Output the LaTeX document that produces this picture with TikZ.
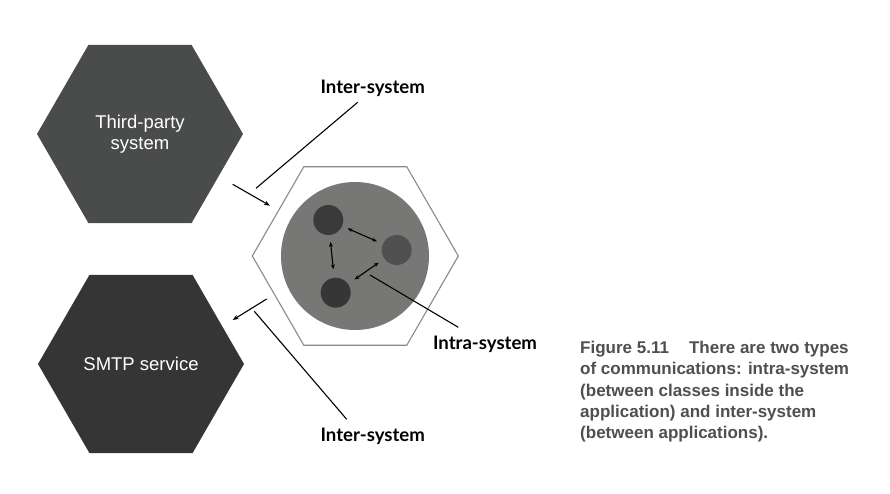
\documentclass[tikz,border=0pt]{standalone}
\usepackage{fontspec}
\setmainfont{Liberation Sans}
\newfontfamily\lblfont{Lato}
\usetikzlibrary{shapes.geometric,arrows.meta}
\definecolor{hexA}{HTML}{4A4C4B}
\definecolor{hexB}{HTML}{353535}
\definecolor{hexline}{HTML}{8A8A8A}
\definecolor{core}{HTML}{777876}
\definecolor{cA}{HTML}{3A3A3A}
\definecolor{cB}{HTML}{4F504F}
\definecolor{cC}{HTML}{363636}
\definecolor{captxt}{HTML}{4F4F4F}
\tikzset{
  hexa/.style={regular polygon, regular polygon sides=6, minimum size=206pt, inner sep=0pt, outer sep=0pt},
  svc/.style={hexa, text=white, align=center, font=\fontsize{18.5}{21}\selectfont},
  cls/.style={circle, minimum size=30pt, inner sep=0pt, outer sep=0pt},
  lbl/.style={font=\lblfont\bfseries\fontsize{18.6}{21}\selectfont, inner sep=0pt},
  conn/.style={line width=1.1pt, black},
  arr/.style={conn, -{Stealth[length=6pt,width=4.5pt]}},
  darr/.style={conn, {Stealth[length=5pt,width=4pt]}-{Stealth[length=5pt,width=4pt]}},
}
\begin{document}
\begin{tikzpicture}[x=1pt,y=-1pt]
\useasboundingbox (0,0) rectangle (890,494);
\fill[white] (0,0) rectangle (890,494);

% external systems
\node[svc, fill=hexA] (tp) at (140,134) {Third-party\\system};
\node[svc, fill=hexB] (smtp) at (141,364) {SMTP service};

% application
\node[hexa, draw=hexline, line width=1.1pt, fill=white] (app) at (355.3,256) {};
\node[circle, minimum size=148pt, inner sep=0pt, fill=core] (core) at (355,256) {};
\node[cls, fill=cA] (c1) at (328.3,220) {};
\node[cls, fill=cB] (c2) at (396.7,250) {};
\node[cls, fill=cC] (c3) at (335.7,292.7) {};

% intra-system arrows
\draw[darr, shorten <=6pt, shorten >=6.5pt] (c1) -- (c2);
\draw[darr, shorten <=7pt, shorten >=8.5pt] (c1) -- (c3);
\draw[darr, shorten <=7pt, shorten >=8pt] (c2) -- (c3);

% inter-system arrows
\coordinate (inA) at (232.7,184.3);
\coordinate (inB) at (270,205.7);
\draw[arr] (inA) -- (inB);
\coordinate (outA) at (266.7,299);
\coordinate (outB) at (232.7,320);
\draw[arr] (outA) -- (outB);

% labels
\node[lbl] (lt) at (372.7,88) {Inter-system};
\node[lbl] (lb) at (372.7,436) {Inter-system};
\node[lbl] (li) at (485,344) {Intra-system};

\coordinate (lt1) at (357.7,102.3);
\coordinate (lt2) at (256,188.3);
\draw[conn] (lt1) -- (lt2);
\coordinate (lb1) at (254.3,311.3);
\coordinate (lb2) at (346.7,419.3);
\draw[conn] (lb1) -- (lb2);
\coordinate (li1) at (370,275);
\coordinate (li2) at (458.3,327.3);
\draw[conn] (li1) -- (li2);

% caption
\node[anchor=north west, inner sep=0pt, align=left, text=captxt,
      font=\bfseries\fontsize{17}{21.3}\selectfont] (cap) at (580,341)
  {Figure 5.11\hspace{20pt}There are two types\\
   of communications: intra-system\\
   (between classes inside the\\
   application) and inter-system\\
   (between applications).};
\end{tikzpicture}
\end{document}
